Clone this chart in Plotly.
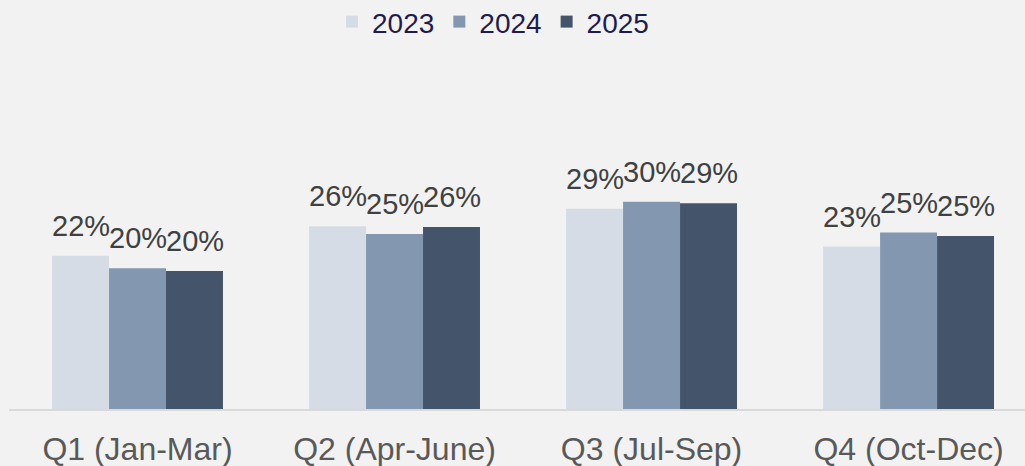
import plotly.graph_objects as go

quarters = ["Q1 (Jan-Mar)", "Q2 (Apr-June)", "Q3 (Jul-Sep)", "Q4 (Oct-Dec)"]
years = ["2023", "2024", "2025"]
share_2023 = [21.9, 26.1, 28.6, 23.2]
share_2024 = [20.1, 25.0, 29.6, 25.2]
share_2025 = [19.7, 26.0, 29.4, 24.7]
labels_2023 = ["22%", "26%", "29%", "23%"]
labels_2024 = ["20%", "25%", "30%", "25%"]
labels_2025 = ["20%", "26%", "29%", "25%"]

colors = ["#d6dce5", "#8497b0", "#44546a"]
FONT = "Arial, Liberation Sans, sans-serif"

series = [share_2023, share_2024, share_2025]
labels = [labels_2023, labels_2024, labels_2025]

fig = go.Figure()
for year, vals, col in zip(years, series, colors):
    fig.add_trace(go.Bar(x=quarters, y=vals, name=year,
                         marker=dict(color=col, line=dict(width=0))))

# data labels sit well above the bars, so use annotations
shifts = [-57, 0, 57]
for vals, labs, dx in zip(series, labels, shifts):
    for q, v, t in zip(quarters, vals, labs):
        fig.add_annotation(x=q, y=v, text=t, showarrow=False,
                           xshift=dx, yshift=12, yanchor="bottom",
                           font=dict(family=FONT, size=29, color="#404040"))

fig.update_layout(
    width=1025, height=466,
    margin=dict(l=9, r=0, t=60, b=57, autoexpand=False),
    paper_bgcolor="#f2f2f2", plot_bgcolor="#f2f2f2",
    barmode="group", bargap=0.335, bargroupgap=0,
    font=dict(family=FONT),
    showlegend=True,
    legend=dict(orientation="h", xref="container", yref="container",
                x=0.481, xanchor="center", y=0.953, yanchor="middle",
                font=dict(size=28, color="#1f1b4d"),
                bgcolor="rgba(0,0,0,0)"),
)
fig.update_xaxes(range=[-0.5, 3.453], showline=True, linecolor="#d9d9d9",
                 linewidth=2, ticks="", showgrid=False, ticklabelstandoff=11,
                 automargin=False, tickangle=0,
                 tickfont=dict(size=32, color="#595959"))
fig.update_yaxes(range=[0, 49.86], visible=False, showgrid=False,
                 zeroline=False, automargin=False)

# drop the default page margin so the chart fills the window
fig.write_html("out.html", config={"displayModeBar": False},
               post_script="document.body.style.margin='0';"
                           "document.body.style.overflow='hidden';")
